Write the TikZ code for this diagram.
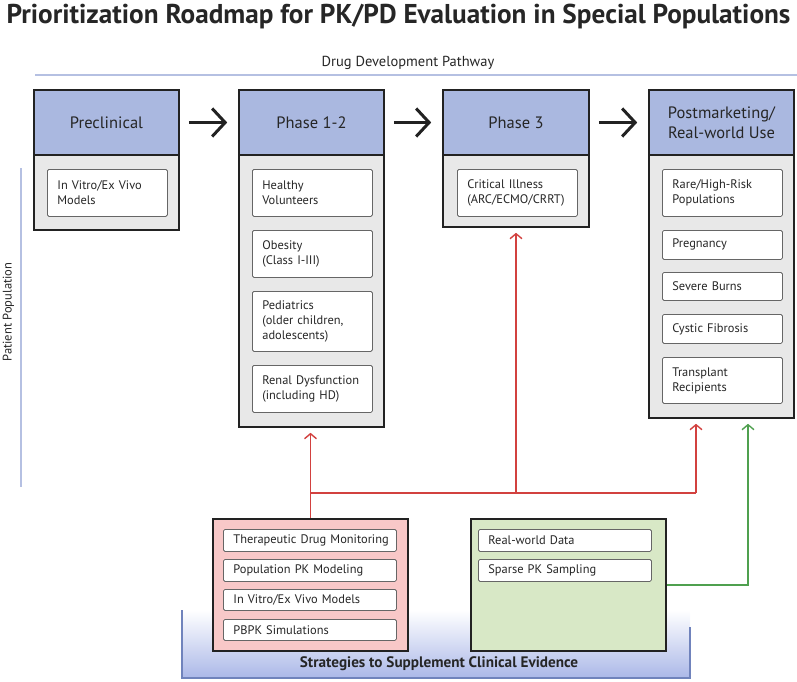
\documentclass[tikz,border=0pt]{standalone}
\usepackage{fontspec}
\setmainfont{PT Sans}
\usetikzlibrary{arrows.meta,fit}
\definecolor{hdr}{HTML}{AAB8E0}
\definecolor{bodyg}{HTML}{E8E8E8}
\definecolor{edge}{HTML}{222222}
\definecolor{inedge}{HTML}{666666}
\definecolor{redfill}{HTML}{F8C8C8}
\definecolor{redline}{HTML}{D2413F}
\definecolor{greenfill}{HTML}{D8E8C6}
\definecolor{greenline}{HTML}{4FA04F}
\definecolor{paleblue}{HTML}{B5C0E2}
\definecolor{bandblue}{HTML}{ABB8E8}
\definecolor{bandedge}{HTML}{7083BC}
\definecolor{txt}{HTML}{262626}
\tikzset{
  bodybox/.style={draw=edge, line width=1.6pt, fill=bodyg, inner sep=0pt},
  hdrbox/.style={draw=edge, line width=1.6pt, fill=hdr, inner sep=0pt, align=center,
     text=txt, font=\fontsize{16}{20}\selectfont},
  ibox/.style={draw=inedge, line width=0.8pt, fill=white, rounded corners=1.5pt,
     anchor=north west, inner xsep=10pt, inner ysep=0pt, align=left, text=txt,
     font=\fontsize{12.4}{15}\selectfont, minimum width=120pt, text width=100pt},
  sbox/.style={ibox, minimum width=173pt, text width=153pt},
  bigarrow/.style={line width=3pt, edge, -{Straight Barb[length=13pt,width=28pt,line width=3pt]},
     shorten <=9pt, shorten >=11pt},
  redarrow/.style={line width=1.4pt, redline, -{Straight Barb[length=5pt,width=12pt,line width=1.4pt]}},
  greenarrow/.style={line width=1.4pt, greenline, -{Straight Barb[length=5pt,width=12pt,line width=1.4pt]}},
}
\begin{document}
\begin{tikzpicture}[x=1pt,y=-1pt]
\useasboundingbox (0,0) rectangle (797,681);
% title
\node[font=\bfseries\fontsize{27.2}{31}\selectfont, text=txt] (title) at (398.5,17) {Prioritization Roadmap for PK/PD Evaluation in Special Populations};
% drug development pathway
\node[font=\fontsize{14.5}{17}\selectfont, text=txt] (ddp) at (408,63) {Drug Development Pathway};
\draw[paleblue, line width=2pt] (35,75) -- (797,75);
% patient population
\draw[paleblue, line width=1.5pt] (21,168) -- (21,487);
\node[rotate=90, font=\fontsize{12.5}{15}\selectfont, text=txt] (pp) at (8.5,312) {Patient Population};

% phase boxes
\node[bodybox, fit={(34,90) (179,230)}] (bx0) {};
\node[hdrbox, fit={(34,90) (179,155)}] (hd0) {};
\node[text=txt, font=\fontsize{16.5}{20}\selectfont] at (hd0.center) {Preclinical};
\node[ibox, minimum height=47pt] (i01) at (47,169) {In Vitro/Ex Vivo\\Models};

\node[bodybox, fit={(239,90) (384,427)}] (bx1) {};
\node[hdrbox, fit={(239,90) (384,155)}] (hd1) {};
\node[text=txt, font=\fontsize{16.5}{20}\selectfont] at (hd1.center) {Phase 1-2};
\node[ibox, minimum height=47pt] (i11) at (252,169) {Healthy\\Volunteers};
\node[ibox, minimum height=47pt] (i12) at (252,230) {Obesity\\(Class I-III)};
\node[ibox, minimum height=60pt] (i13) at (252,291) {Pediatrics\\(older children,\\adolescents)};
\node[ibox, minimum height=47pt] (i14) at (252,365) {Renal Dysfunction\\(including HD)};

\node[bodybox, fit={(443,90) (589,227)}] (bx2) {};
\node[hdrbox, fit={(443,90) (589,155)}] (hd2) {};
\node[text=txt, font=\fontsize{16.5}{20}\selectfont] at (hd2.center) {Phase 3};
\node[ibox, minimum height=47pt] (i21) at (457,169) {Critical Illness\\(ARC/ECMO/CRRT)};

\node[bodybox, fit={(649,90) (794,418)}] (bx3) {};
\node[hdrbox, fit={(649,90) (794,155)}] (hd3) {};
\node[text=txt, font=\fontsize{16.5}{20}\selectfont, align=center] at (hd3.center) {Postmarketing/\\Real-world Use};
\node[ibox, minimum height=47pt] (i31) at (662,169) {Rare/High-Risk\\Populations};
\node[ibox, minimum height=29pt] (i32) at (662,230) {Pregnancy};
\node[ibox, minimum height=28pt] (i33) at (662,272) {Severe Burns};
\node[ibox, minimum height=29pt] (i34) at (662,314) {Cystic Fibrosis};
\node[ibox, minimum height=46pt] (i35) at (662,357) {Transplant\\Recipients};

% phase arrows
\draw[bigarrow] (hd0) -- (hd1);
\draw[bigarrow] (hd1) -- (hd2);
\draw[bigarrow] (hd2) -- (hd3);

% band
\shade[top color=white, bottom color=bandblue] (182,610) rectangle (690,678);
\draw[bandedge, line width=1.5pt] (182,610) -- (182,678) -- (690,678) -- (690,627);
\node[font=\bfseries\fontsize{15.2}{18}\selectfont, text=txt] (band) at (439,664) {Strategies to Supplement Clinical Evidence};

% strategy boxes
\node[draw=edge, line width=1.6pt, fill=redfill, inner sep=0pt, fit={(213,519) (408,651)}] (rbox) {};
\node[sbox, minimum height=22pt] (r1) at (223,529) {\mbox{Therapeutic Drug Monitoring}};
\node[sbox, minimum height=22pt] (r2) at (223,559) {Population PK Modeling};
\node[sbox, minimum height=21pt] (r3) at (223,589) {In Vitro/Ex Vivo Models};
\node[sbox, minimum height=21pt] (r4) at (223,619) {PBPK Simulations};

\node[draw=edge, line width=1.6pt, fill=greenfill, inner sep=0pt, fit={(471,519) (666,651)}] (gbox) {};
\node[sbox, minimum height=22pt] (g1) at (478,529) {Real-world Data};
\node[sbox, minimum height=22pt] (g2) at (478,559) {Sparse PK Sampling};

% red connectors
\coordinate (j) at (310.5,493);
\coordinate (jr) at (696,493);
\coordinate (jm) at (516,493);
\draw[redline, line width=1.4pt] (rbox.north) -- (j) -- (jr);
\draw[redarrow, shorten >=5pt] (j) -- (j |- bx1.south);
\draw[redarrow, shorten >=5pt] (jm) -- (bx2.south);
\draw[redarrow, shorten >=5pt] (jr) -- (jr |- bx3.south);
% green connector
\coordinate (gc) at (748,585);
\draw[greenarrow, shorten >=5pt] (gbox.east) -- (gc) -- (gc |- bx3.south);
\end{tikzpicture}
\end{document}
